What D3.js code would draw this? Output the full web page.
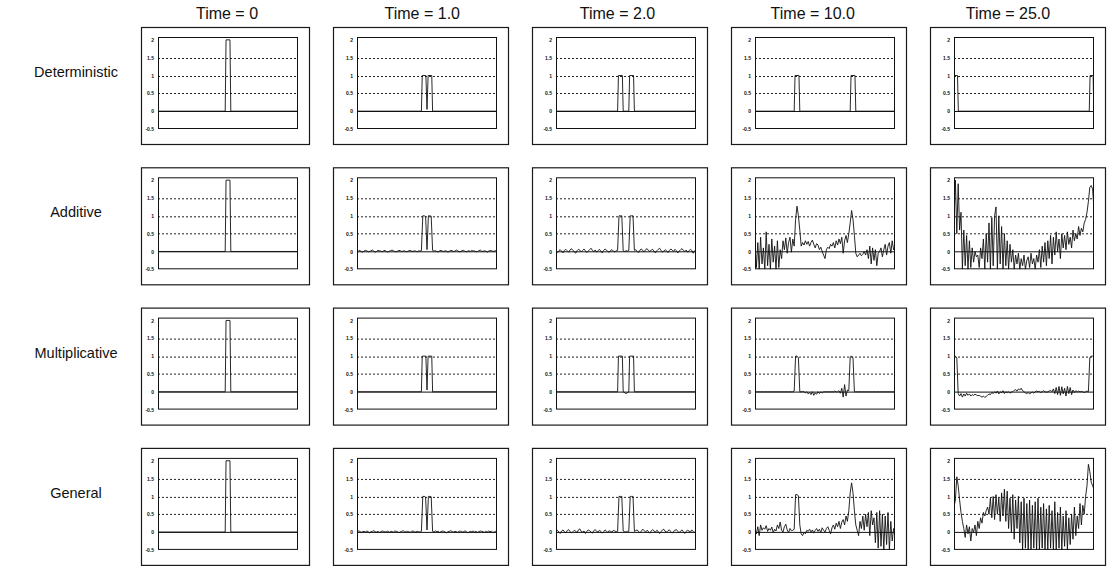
<!DOCTYPE html>
<html>
<head>
<meta charset="utf-8">
<script src="https://cdn.jsdelivr.net/npm/d3@7"></script>
<style>
  body { margin: 0; background: #fff; }
  svg text { font-family: "Liberation Sans", Arial, Helvetica, sans-serif; fill: #111; }
</style>
</head>
<body>
<div id="plot"></div>
<script>
// column headers and row labels
const times = ["Time = 0", "Time = 1.0", "Time = 2.0", "Time = 10.0", "Time = 25.0"];
const models = ["Deterministic", "Additive", "Multiplicative", "General"];
const yTicks = [2, 1.5, 1, 0.5, 0, -0.5];
const gridValues = [0.5, 1, 1.5];

// noise free pulses, [x, y] pairs on a 0..100 grid
const pulseT0 = [[0, 0], [48, 0], [48.6, 2], [51.4, 2], [52, 0], [100, 0]];
const pulseT1 = [[0, 0], [46, 0], [46.6, 1], [49.2, 1], [50, 0.05], [50.8, 1], [53.4, 1], [54, 0], [100, 0]];
const pulseT2 = [[0, 0], [44, 0], [44.6, 1], [47.4, 1], [48, 0], [52, 0], [52.6, 1], [55.4, 1], [56, 0], [100, 0]];
const pulseT10 = [[0, 0], [28, 0], [28.6, 1], [31.4, 1], [32, 0], [68, 0], [68.6, 1], [71.4, 1], [72, 0], [100, 0]];
const pulseT25 = [[0, 1], [2.5, 1], [3.1, 0], [96.6, 0], [97.2, 1], [99.4, 1], [99.8, 0], [100, 0]];
const multT2 = [[0, 0], [44, 0], [44.6, 1], [47.4, 1], [48, 0], [50, -0.05], [52, 0], [52.6, 1], [55.4, 1], [56, 0], [100, 0]];

// noisy series, one y value per grid point x = 0..100
const additiveT1 = [
  0.02, 0.01, 0.03, 0.00, -0.02, 0.01, 0.03, 0.02, -0.01, 0.00,
  0.02, 0.04, 0.01, -0.02, 0.00, 0.03, 0.02, 0.01, -0.01, 0.02,
  0.03, 0.00, -0.02, 0.01, 0.02, 0.04, 0.02, 0.00, -0.01, 0.01,
  0.03, 0.02, 0.00, 0.01, 0.02, -0.01, 0.00, 0.02, 0.03, 0.01,
  0.00, 0.02, 0.01, -0.01, 0.02, 0.01, 0.02, 1.00, 1.00, 0.98,
  0.05, 1.00, 1.00, 0.99, 0.03, 0.01, 0.02, 0.00, -0.01, 0.02,
  0.03, 0.01, 0.00, 0.02, 0.01, -0.02, 0.01, 0.03, 0.02, 0.00,
  0.01, 0.04, 0.02, -0.01, 0.00, 0.02, 0.03, 0.01, -0.01, 0.01,
  0.02, 0.00, 0.03, 0.01, 0.02, -0.01, 0.00, 0.02, 0.04, 0.01,
  0.00, 0.02, 0.01, -0.02, 0.01, 0.02, 0.03, 0.00, 0.01, 0.02,
  0.01
];
const additiveT2 = [
  0.00, -0.03, 0.02, 0.05, 0.01, -0.04, 0.03, 0.06, 0.02, -0.02,
  0.04, 0.08, 0.03, 0.00, -0.05, 0.02, 0.06, 0.04, -0.01, 0.03,
  0.07, 0.02, -0.03, 0.01, 0.05, 0.09, 0.03, 0.00, 0.04, -0.02,
  0.02, 0.06, 0.01, -0.04, 0.03, 0.07, 0.04, 0.00, -0.02, 0.03,
  0.05, 0.01, -0.01, 0.02, 0.03, 1.00, 1.00, 1.00, 0.02, 0.00,
  0.02, 0.01, 0.03, 1.00, 1.00, 1.00, 0.03, 0.05, 0.00, -0.03,
  0.04, 0.07, 0.02, -0.01, 0.05, 0.08, 0.03, 0.00, 0.04, 0.06,
  0.01, -0.04, 0.02, 0.06, 0.09, 0.03, -0.02, 0.01, 0.05, 0.02,
  -0.03, 0.03, 0.07, 0.04, 0.00, 0.06, 0.02, -0.04, 0.01, 0.05,
  0.08, 0.03, 0.00, 0.04, -0.02, 0.02, 0.06, 0.03, -0.05, 0.02,
  0.04
];
const additiveT10 = [
  0.30, -0.45, 0.25, -0.50, 0.40, -0.35, 0.10, -0.50, 0.55, -0.40,
  0.20, -0.50, 0.35, -0.30, 0.15, -0.50, 0.30, -0.45, 0.05, -0.20,
  0.30, 0.05, 0.38, -0.05, 0.25, 0.40, -0.02, 0.35, 0.15, 0.90,
  1.27, 1.00, 0.60, 0.15, 0.25, 0.18, 0.30, 0.20, 0.28, 0.15,
  0.25, 0.32, 0.20, 0.10, 0.22, 0.18, 0.05, 0.12, 0.00, -0.10,
  -0.20, 0.05, 0.12, 0.08, 0.20, 0.15, 0.25, 0.10, 0.30, 0.18,
  0.35, 0.22, 0.40, -0.05, 0.30, 0.45, 0.25, 0.50, 0.80, 1.15,
  0.90, 0.45, -0.05, -0.15, -0.10, -0.05, -0.12, -0.08, 0.00, -0.10,
  0.05, -0.20, 0.15, -0.35, 0.10, -0.25, 0.05, -0.40, -0.05, 0.00,
  0.10, -0.15, 0.05, 0.20, -0.10, 0.15, 0.25, -0.05, 0.30, 0.05,
  0.12
];
const additiveT25 = [
  0.80, 2.00, 0.50, 1.90, 0.60, 1.10, -0.50, 0.60, -0.40, 0.45,
  -0.50, 0.30, -0.45, 0.10, -0.30, 0.00, -0.15, -0.10, -0.45, 0.10,
  -0.20, 0.35, -0.50, 0.50, -0.30, 0.80, -0.50, 0.95, -0.40, 1.00,
  1.25, -0.50, 1.00, -0.35, 0.70, -0.50, 0.50, -0.40, 0.30, -0.50,
  0.20, -0.30, 0.05, -0.50, -0.10, -0.35, -0.05, -0.50, -0.20, -0.40,
  -0.10, -0.50, -0.25, -0.15, -0.45, -0.05, -0.35, -0.20, -0.50, -0.10,
  -0.30, 0.05, -0.45, 0.15, -0.30, 0.25, -0.40, 0.30, -0.20, 0.45,
  -0.35, 0.40, -0.10, 0.55, 0.00, 0.35, -0.20, 0.50, 0.10, 0.45,
  0.05, 0.55, 0.20, 0.40, 0.10, 0.60, 0.30, 0.50, 0.35, 0.70,
  0.45, 0.65, 0.55, 0.80, 0.90, 1.10, 1.40, 1.80, 1.85, 1.75,
  1.20
];
const multT10 = [
  0, 0, 0, 0, 0, 0, 0, 0, 0, 0,
  0, 0, 0, 0, 0, 0, 0, 0, 0, 0,
  0, 0, 0, 0, 0, 0, 0, 0, 0.02, 1.00,
  1.00, 0.95, 0.00, 0.00, 0.01, 0.00, -0.03, 0.00, -0.06, -0.02,
  -0.08, 0.00, -0.10, -0.03, -0.07, 0.00, -0.05, 0.00, -0.03, 0.00,
  0, 0, 0, 0, 0, 0, 0, 0.02, 0, 0,
  0.03, -0.04, 0.10, -0.15, 0.20, -0.12, 0.05, 0.03, 0.98, 1.00,
  0.95, 0.00, 0, 0, 0, 0, 0, 0, 0, 0,
  0, 0, 0, 0, 0, 0, 0, 0, 0, 0,
  0, 0, 0, 0, 0, 0, 0, 0, 0, 0,
  0
];
const multT25 = [
  1.00, 1.00, 0.95, -0.05, -0.12, -0.05, -0.15, -0.06, -0.12, -0.04,
  -0.10, -0.06, -0.12, -0.08, -0.10, -0.07, -0.09, -0.11, -0.10, -0.13,
  -0.15, -0.12, -0.16, -0.13, -0.10, -0.06, -0.08, -0.02, -0.05, 0.00,
  -0.04, 0.02, -0.06, 0.00, -0.03, 0.03, -0.05, 0.00, -0.02, 0.00,
  -0.04, -0.01, 0.00, 0.04, 0.06, 0.02, 0.08, 0.05, 0.10, 0.03,
  0.00, -0.03, -0.05, -0.02, -0.06, -0.03, -0.01, -0.04, 0.00, 0.02,
  0.00, 0.01, -0.02, 0.00, 0.03, 0.00, -0.01, 0.00, 0.02, 0.04,
  0.00, 0.08, -0.05, 0.12, -0.08, 0.15, -0.10, 0.14, -0.06, 0.10,
  -0.12, 0.15, -0.05, 0.12, -0.08, 0.05, -0.02, 0.03, 0.00, 0.02,
  0.00, 0.01, 0.00, -0.02, 0.00, 0.02, 0.00, 0.95, 1.00, 1.00,
  1.00
];
const generalT1 = [
  0.01, 0.03, 0.02, -0.01, 0.01, 0.02, 0.00, 0.03, 0.01, -0.02,
  0.01, 0.02, 0.04, 0.01, 0.00, 0.02, -0.01, 0.01, 0.03, 0.02,
  0.00, 0.01, 0.03, -0.01, 0.02, 0.01, 0.00, 0.03, 0.02, 0.01,
  -0.02, 0.01, 0.02, 0.04, 0.01, 0.00, 0.02, 0.01, -0.01, 0.02,
  0.03, 0.01, 0.00, 0.02, 0.01, 0.00, 0.02, 1.00, 1.00, 0.98,
  0.06, 1.00, 1.00, 0.99, 0.02, 0.00, 0.03, 0.01, 0.02, -0.01,
  0.01, 0.03, 0.02, 0.00, -0.02, 0.01, 0.02, 0.04, 0.01, 0.00,
  0.02, 0.01, -0.01, 0.03, 0.02, 0.00, 0.01, 0.03, 0.02, -0.02,
  0.00, 0.02, 0.01, 0.03, 0.00, 0.02, -0.01, 0.01, 0.03, 0.02,
  0.01, -0.01, 0.02, 0.00, 0.03, 0.01, 0.02, -0.01, 0.00, 0.02,
  0.01
];
const generalT2 = [
  0.02, 0.05, 0.00, -0.04, 0.03, 0.06, 0.01, -0.02, 0.04, 0.07,
  0.02, -0.03, 0.01, 0.05, 0.03, -0.02, 0.06, 0.09, 0.02, 0.00,
  0.03, -0.04, 0.02, 0.06, 0.04, 0.00, -0.03, 0.04, 0.07, 0.02,
  0.00, 0.05, 0.02, -0.03, 0.01, 0.06, 0.03, -0.01, 0.04, 0.02,
  0.00, 0.05, 0.03, 0.01, 0.02, 1.00, 1.00, 1.00, 0.03, 0.01,
  0.00, 0.02, 0.02, 1.00, 1.00, 1.00, 0.02, 0.04, 0.06, 0.01,
  -0.02, 0.03, 0.08, 0.04, 0.00, 0.05, 0.02, -0.03, 0.03, 0.07,
  0.03, 0.00, 0.05, 0.02, -0.04, 0.01, 0.06, 0.08, 0.02, 0.00,
  0.04, 0.06, 0.01, -0.03, 0.02, 0.05, 0.07, 0.02, -0.02, 0.03,
  0.06, 0.01, -0.04, 0.02, 0.05, 0.03, 0.00, 0.06, 0.02, -0.02,
  0.05
];
const generalT10 = [
  0.10, -0.05, 0.15, -0.10, 0.20, 0.05, 0.12, 0.08, 0.18, 0.02,
  0.10, 0.05, 0.14, -0.02, 0.08, 0.03, 0.20, 0.10, 0.28, 0.05,
  0.00, 0.15, 0.22, 0.06, -0.02, 0.10, 0.04, 0.05, 0.08, 1.05,
  1.05, 1.02, 0.20, -0.05, -0.10, 0.00, -0.05, 0.05, 0.02, 0.08,
  0.00, 0.06, -0.03, 0.05, 0.10, 0.02, 0.08, -0.02, 0.12, 0.05,
  0.00, 0.10, 0.15, 0.05, -0.05, 0.12, 0.20, 0.08, 0.25, 0.15,
  0.30, 0.10, 0.28, 0.35, 0.20, 0.45, 0.30, 0.60, 1.10, 1.38,
  1.10, 0.60, 0.20, 0.05, -0.10, 0.30, 0.10, 0.45, 0.05, 0.50,
  0.15, 0.55, -0.10, 0.60, 0.20, 0.40, -0.30, 0.55, -0.45, 0.60,
  -0.40, 0.50, -0.50, 0.45, -0.35, 0.55, -0.50, 0.30, -0.25, 0.10,
  -0.05
];
const generalT25 = [
  0.70, 0.90, 1.55, 1.30, 0.90, 0.55, 0.30, 0.10, -0.15, 0.20,
  -0.05, 0.15, -0.25, 0.10, 0.00, 0.20, -0.10, 0.30, 0.10, 0.40,
  0.25, 0.55, 0.45, 0.60, 0.70, 0.50, 0.95, 0.40, 1.00, 0.35,
  1.05, 0.50, 0.95, 0.30, 1.10, 0.45, 1.20, 0.30, 1.15, 0.10,
  0.95, 0.00, 1.05, -0.20, 0.90, 0.10, 1.00, -0.30, 0.85, -0.50,
  0.95, -0.45, 0.80, -0.50, 0.90, -0.50, 0.75, -0.45, 0.85, -0.50,
  0.95, -0.50, 0.70, -0.45, 0.80, -0.50, 0.65, -0.50, 0.75, -0.45,
  0.60, -0.50, 0.85, -0.50, 0.55, -0.45, 0.70, -0.50, 0.45, -0.40,
  0.60, -0.50, 0.40, -0.35, 0.50, -0.20, 0.70, -0.10, 0.45, 0.10,
  0.80, 0.20, 0.75, 0.50, 1.00, 1.30, 1.90, 1.70, 1.40, 1.30,
  1.20
];

// turn a y list into [x, y] pairs (x = grid index)
function toPairs(ys) {
  return ys.map((v, i) => [i, v]);
}

const panels = [
  [pulseT0, pulseT1, pulseT2, pulseT10, pulseT25],
  [pulseT0, toPairs(additiveT1), toPairs(additiveT2), toPairs(additiveT10), toPairs(additiveT25)],
  [pulseT0, pulseT1, multT2, toPairs(multT10), toPairs(multT25)],
  [pulseT0, toPairs(generalT1), toPairs(generalT2), toPairs(generalT10), toPairs(generalT25)]
];

const W = 1113, H = 571;
const plotW = 140, plotH = 92;
const left0 = 158, colStep = 199;
const top0 = 37, rowStep = 140.3;
// the first column's outer box sits a bit closer to its plot
const frameLeft = [-17, -24, -24, -24, -24];

const svg = d3.select("#plot")
  .append("svg")
  .attr("width", W)
  .attr("height", H);

const x = d3.scaleLinear().domain([0, 100]).range([0, plotW]);
const y = d3.scaleLinear().domain([-0.5, 2.08]).range([plotH, 0]);

const line = d3.line()
  .x(d => x(d[0]))
  .y(d => y(d[1]));

svg.append("defs").append("clipPath")
  .attr("id", "plotClip")
  .append("rect")
  .attr("width", plotW)
  .attr("height", plotH);

// column titles
times.forEach((t, c) => {
  svg.append("text")
    .attr("x", 227 + c * 195.25)
    .attr("y", 19)
    .attr("text-anchor", "middle")
    .style("font-size", "16px")
    .text(t);
});

// row labels
models.forEach((m, r) => {
  svg.append("text")
    .attr("x", 76)
    .attr("y", top0 + r * rowStep + 40)
    .attr("text-anchor", "middle")
    .style("font-size", "14.5px")
    .text(m);
});

panels.forEach((row, r) => {
  row.forEach((series, c) => {
    const g = svg.append("g")
      .attr("transform", `translate(${left0 + c * colStep},${top0 + r * rowStep})`);

    // outer frame
    g.append("rect")
      .attr("x", frameLeft[c] + 0.5)
      .attr("y", -9.5)
      .attr("width", plotW + 11 - frameLeft[c])
      .attr("height", plotH + 25)
      .attr("fill", "none")
      .attr("stroke", "#1a1a1a")
      .attr("stroke-width", 1.2);

    // dotted grid
    g.selectAll(".grid")
      .data(gridValues)
      .enter().append("line")
      .attr("class", "grid")
      .attr("x1", 0)
      .attr("x2", plotW)
      .attr("y1", d => Math.round(y(d)) + 0.5)
      .attr("y2", d => Math.round(y(d)) + 0.5)
      .attr("stroke", "#222")
      .attr("stroke-width", 1)
      .attr("stroke-dasharray", "2,2");

    // zero line
    g.append("line")
      .attr("x1", 0)
      .attr("x2", plotW)
      .attr("y1", Math.round(y(0)) + 0.5)
      .attr("y2", Math.round(y(0)) + 0.5)
      .attr("stroke", "#111")
      .attr("stroke-width", 1);

    // y axis labels
    const ax = g.append("g")
      .call(d3.axisLeft(y).tickValues(yTicks).tickSize(0).tickPadding(4).tickFormat(d => String(d)));
    ax.select(".domain").remove();
    ax.selectAll("text")
      .style("font-size", "5px")
      .style("font-weight", "bold");

    g.append("path")
      .datum(series)
      .attr("clip-path", "url(#plotClip)")
      .attr("fill", "none")
      .attr("stroke", "#111")
      .attr("stroke-width", 0.9)
      .attr("d", line);

    // plot box
    g.append("rect")
      .attr("x", 0.5)
      .attr("y", 0.5)
      .attr("width", plotW - 1)
      .attr("height", plotH - 1)
      .attr("fill", "none")
      .attr("stroke", "#111")
      .attr("stroke-width", 1);
  });
});
</script>
</body>
</html>
